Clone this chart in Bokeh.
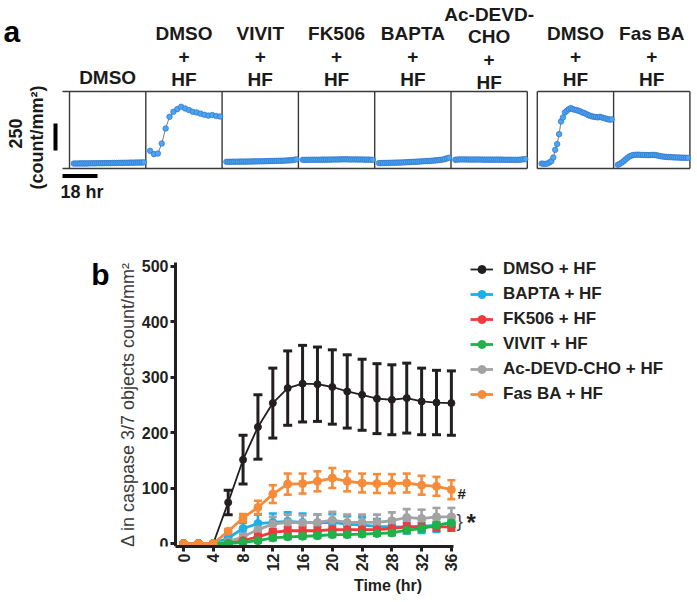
import numpy as np
from bokeh.plotting import figure
from bokeh.models import (Range1d, ColumnDataSource, Whisker, TeeHead, Legend,
                          LegendItem, Label, FixedTicker)
from bokeh.layouts import column
from bokeh.embed import file_html
from bokeh.resources import INLINE
from bokeh.core.properties import value

FONT = "Liberation Sans"

# ---------------- panel a data ----------------
a_titles = [["DMSO"], ["DMSO", "+", "HF"], ["VIVIT", "+", "HF"], ["FK506", "+", "HF"],
            ["BAPTA", "+", "HF"], ["Ac-DEVD-", "CHO", "+", "HF"], ["DMSO", "+", "HF"],
            ["Fas BA", "+", "HF"]]
a_hours = list(range(0, 37))
a_hours_2h = list(range(0, 37, 2))
a_dmso = [46, 46, 46, 47, 47, 47, 47, 47, 48, 48, 48, 48, 49, 49, 49, 49, 50, 50, 50,
          50, 51, 51, 51, 52, 52, 52, 53, 53, 53, 54, 54, 54, 55, 55, 56, 56, 57]
a_dmso_hf1 = [164, 133, 139, 232, 371, 479, 525, 550, 572, 556, 541, 525, 519, 508,
              497, 490, 495, 486, 482]
a_vivit = [62, 62, 62, 63, 63, 63, 63, 64, 64, 64, 64, 65, 65, 65, 66, 66, 66, 67, 67,
           67, 68, 68, 69, 69, 70, 70, 71, 71, 72, 72, 73, 74, 75, 76, 78, 81, 85]
a_fk506 = [80, 80, 80, 80, 81, 81, 81, 81, 81, 81, 82, 82, 82, 82, 82, 83, 83, 84, 84,
           84, 85, 85, 85, 85, 84, 84, 84, 84, 84, 83, 83, 83, 82, 82, 82, 81, 80]
a_bapta = [50, 50, 51, 51, 52, 52, 53, 53, 54, 54, 55, 55, 56, 57, 58, 59, 60, 61, 62,
           63, 64, 65, 66, 67, 68, 69, 70, 72, 73, 75, 77, 79, 81, 84, 88, 94, 100]
a_devd = [80, 83, 84, 84, 84, 84, 84, 83, 83, 83, 83, 83, 83, 83, 82, 82, 82, 82, 82,
          82, 82, 82, 82, 82, 82, 81, 81, 81, 81, 81, 80, 80, 80, 81, 83, 85, 87]
a_dmso_hf2 = [46, 43, 43, 46, 56, 68, 102, 173, 226, 318, 436, 473, 519, 535, 550, 559,
              550, 544, 541, 535, 528, 519, 513, 504, 494, 488, 482, 479, 476, 473, 479,
              473, 467, 462, 457, 452, 455]
a_fasba = [34, 43, 55, 68, 85, 100, 112, 120, 125, 127, 128, 127, 126, 126, 125, 124,
           124, 125, 126, 125, 122, 118, 114, 111, 109, 107, 106, 105, 104, 103, 102,
           102, 101, 100, 100, 99, 99]
a_series = [(a_hours, a_dmso), (a_hours_2h, a_dmso_hf1), (a_hours, a_vivit),
            (a_hours, a_fk506), (a_hours, a_bapta), (a_hours, a_devd),
            (a_hours, a_dmso_hf2), (a_hours, a_fasba)]
scale_counts = 250
scale_hours = 18

# ---------------- panel b data ----------------
b_time = list(range(0, 37, 2))
b_names = ["DMSO + HF", "BAPTA + HF", "FK506 + HF", "VIVIT + HF", "Ac-DEVD-CHO + HF", "Fas BA + HF"]
b_dmso = [0, 0, 0, 74, 151, 210, 253, 280, 288, 287, 282, 274, 268, 261, 259, 262, 256, 254, 253]
b_dmso_sd = [0, 0, 0, 22, 44, 58, 63, 67, 69, 67, 67, 66, 64, 63, 63, 63, 60, 58, 58]
b_bapta = [0, 0, 0, 10, 27, 36, 38, 40, 38, 37, 38, 35, 33, 31, 30, 30, 31, 33, 37]
b_bapta_sd = [0, 0, 0, 5, 10, 16, 16, 16, 16, 15, 15, 14, 14, 13, 13, 12, 12, 12, 12]
b_fk506 = [0, 0, 0, 0, 5, 12, 20, 23, 23, 23, 25, 25, 25, 25, 27, 30, 30, 30, 30]
b_fk506_sd = [0, 0, 0, 1, 3, 5, 6, 7, 7, 7, 7, 7, 7, 7, 7, 7, 7, 7, 7]
b_vivit = [0, 0, 0, 0, 2, 5, 10, 12, 13, 14, 16, 16, 17, 18, 19, 24, 27, 33, 37]
b_vivit_sd = [0, 0, 0, 1, 2, 3, 4, 4, 4, 4, 4, 4, 4, 4, 4, 5, 5, 6, 6]
b_devd = [0, 0, 0, 3, 12, 25, 35, 38, 37, 38, 42, 38, 38, 38, 41, 47, 45, 48, 48]
b_devd_sd = [0, 0, 0, 3, 6, 10, 13, 14, 14, 14, 15, 14, 14, 14, 15, 15, 16, 16, 16]
b_fasba = [0, 0, 0, 22, 46, 65, 89, 107, 108, 112, 118, 112, 109, 108, 108, 109, 105, 103, 97]
b_fasba_sd = [0, 0, 0, 4, 7, 12, 16, 19, 18, 18, 18, 18, 17, 17, 17, 17, 17, 17, 17]
b_colors = ["#231f20", "#1eaee8", "#ee3b3b", "#1fb14b", "#a3a3a3", "#f68b3a"]
y_ticks = [0, 100, 200, 300, 400, 500]
x_ticks = list(range(0, 37, 4))

# ================= panel a figure (page y 0..208) =================
PX_PER_HR = 35 / 18
CNT_PER_PX = 250 / 27
FA_W, FA_H = 697, 208
PANEL_W = 76.3 / PX_PER_HR
GAP = 10 / PX_PER_HR
PAD = 4.3 / PX_PER_HR
PANEL_TOP = 77 * CNT_PER_PX
X0 = -69 / PX_PER_HR
Y0 = -(FA_H - 168) * CNT_PER_PX


def ax(page_x):
    return X0 + page_x / PX_PER_HR


def ay(page_y):
    return Y0 + (FA_H - page_y) * CNT_PER_PX


pa = figure(width=FA_W, height=FA_H, output_backend="svg", toolbar_location=None,
            x_range=Range1d(X0, X0 + FA_W / PX_PER_HR),
            y_range=Range1d(Y0, Y0 + FA_H * CNT_PER_PX),
            x_axis_location=None, y_axis_location=None, min_border=0, frame_align=False)
pa.outline_line_color = None
pa.grid.visible = False

lefts = [i * PANEL_W for i in range(6)] + [6 * PANEL_W + GAP + i * PANEL_W for i in range(2)]
rights = [l + PANEL_W for l in lefts]
verts = sorted(set([round(v, 4) for v in lefts + rights]))
pa.segment(x0=verts, y0=0, x1=verts, y1=PANEL_TOP, line_color="#3a3a3a", line_width=1.4)
ext = 7 / PX_PER_HR
g1l, g1r, g2l, g2r = lefts[0] - ext, rights[5], lefts[6], rights[7]
pa.segment(x0=[g1l, g1l, g2l, g2l], y0=[0, PANEL_TOP, 0, PANEL_TOP],
           x1=[g1r, g1r, g2r, g2r], y1=[0, PANEL_TOP, 0, PANEL_TOP],
           line_color="#3a3a3a", line_width=1.4)

title_base = [14, 12, 12, 12, 12, 9, 12, 12]
for i, ((ts, vs), lines) in enumerate(zip(a_series, a_titles)):
    xs = [lefts[i] + PAD + t for t in ts]
    pa.line(xs, vs, line_color="#5a5a5a", line_width=0.8)
    pa.scatter(xs, vs, size=5.6, fill_color="#4ca4f2", line_color="#2b6dc2", line_width=0.6)
    n = len(lines)
    cx = lefts[i] + PANEL_W / 2
    for k, txt in enumerate(lines):
        yy = PANEL_TOP + (title_base[i] + 22.8 * (n - 1 - k)) * CNT_PER_PX
        pa.text(x=[cx], y=[yy], text=[txt], text_align="center", text_baseline="middle",
                text_font=value(FONT), text_font_style="bold", text_font_size="19px",
                text_color="#1a1a1a")

# scale bars
sb_y0 = (168 - 150) * CNT_PER_PX
pa.segment(x0=[ax(55)], y0=[sb_y0], x1=[ax(55)], y1=[sb_y0 + scale_counts],
           line_color="black", line_width=4)
hb_x0 = ax(62)
pa.segment(x0=[hb_x0], y0=[ay(175.5)], x1=[hb_x0 + scale_hours], y1=[ay(175.5)],
           line_color="black", line_width=4)
pa.text(x=[ax(60)], y=[ay(191)], text=["18 hr"], text_align="left", text_baseline="middle",
        text_font=value(FONT), text_font_style="bold", text_font_size="18px", text_color="#1a1a1a")
pa.text(x=[ax(15)], y=[ay(133)], text=["250"], angle=np.pi / 2, text_align="center",
        text_baseline="middle", text_font=value(FONT), text_font_style="bold",
        text_font_size="18px", text_color="#1a1a1a")
pa.text(x=[ax(36)], y=[ay(137)], text=["(count/mm²)"], angle=np.pi / 2, text_align="center",
        text_baseline="middle", text_font=value(FONT), text_font_style="bold",
        text_font_size="18px", text_color="#1a1a1a")
pa.text(x=[ax(3)], y=[ay(31)], text=["a"], text_align="left", text_baseline="middle",
        text_font=value(FONT), text_font_style="bold", text_font_size="30px", text_color="black")

# ================= panel b figure (page y 208..602) =================
PXU_X = 7.44     # px per hour
PXU_Y = 0.555    # px per count
AX_X = -1.08     # where the y axis sits (data)
AX_Y = -5.4      # where the x axis sits (data)
AX_XEND = 36.29
AX_YEND = 506.3
FB_TOP = 208
# frame spans page x 78..697, page y 208..546 ; axis corner at page (175, 546)
XS = AX_X - (175 - 78) / PXU_X
XE = AX_X + (697 - 175) / PXU_X
YS = AX_Y
YE = AX_Y + (546 - FB_TOP) / PXU_Y

pb = figure(width=697, height=602 - FB_TOP, output_backend="svg", toolbar_location=None,
            x_range=Range1d(XS, XE), y_range=Range1d(YS, YE),
            min_border_left=78, min_border_right=0, min_border_top=0,
            min_border_bottom=602 - 546, frame_align=False)
pb.outline_line_color = None
pb.grid.visible = False
for axis in (pb.xaxis[0], pb.yaxis[0]):
    axis.axis_line_width = 3
    axis.axis_line_color = "#231f20"
    axis.major_tick_line_width = 3
    axis.major_tick_line_color = "#231f20"
    axis.major_tick_out = 5
    axis.major_tick_in = 0
    axis.minor_tick_line_color = None
    axis.major_label_text_font = FONT
    axis.major_label_text_font_style = "bold"
    axis.major_label_text_font_size = "16px"
    axis.major_label_text_color = "#231f20"
    axis.major_label_standoff = 2
pb.xaxis.ticker = FixedTicker(ticks=x_ticks)
pb.yaxis.ticker = FixedTicker(ticks=y_ticks)
pb.xaxis.bounds = (AX_X, AX_XEND)
pb.yaxis.bounds = (AX_Y, AX_YEND)
pb.yaxis.fixed_location = AX_X
pb.xaxis.major_label_orientation = np.pi / 2
pb.xaxis.axis_label = "Time (hr)"
pb.xaxis.axis_label_text_font = FONT
pb.xaxis.axis_label_text_font_style = "bold"
pb.xaxis.axis_label_text_font_size = "16px"
pb.xaxis.axis_label_text_color = "#231f20"
pb.xaxis.axis_label_standoff = 3
pb.yaxis.axis_label = "Δ in caspase 3/7 objects count/mm²"
pb.yaxis.axis_label_text_font = FONT
pb.yaxis.axis_label_text_font_style = "normal"
pb.yaxis.axis_label_text_font_size = "18px"
pb.yaxis.axis_label_text_color = "#3a3a3a"
pb.yaxis.axis_label_standoff = 1

series = {
    "DMSO + HF": (b_dmso, b_dmso_sd),
    "BAPTA + HF": (b_bapta, b_bapta_sd),
    "FK506 + HF": (b_fk506, b_fk506_sd),
    "VIVIT + HF": (b_vivit, b_vivit_sd),
    "Ac-DEVD-CHO + HF": (b_devd, b_devd_sd),
    "Fas BA + HF": (b_fasba, b_fasba_sd),
}
color_of = dict(zip(b_names, b_colors))
draw_order = ["BAPTA + HF", "Ac-DEVD-CHO + HF", "FK506 + HF", "VIVIT + HF", "DMSO + HF", "Fas BA + HF"]
renderers = {}
for name in draw_order:
    ys, sd = series[name]
    c = color_of[name]
    black = name == "DMSO + HF"
    idx = [i for i, s in enumerate(sd) if s > 0]
    src = ColumnDataSource(dict(x=[b_time[i] for i in idx],
                                lo=[ys[i] - sd[i] for i in idx],
                                hi=[ys[i] + sd[i] for i in idx]))
    wl = 3 if black else 2.6
    w = Whisker(base="x", lower="lo", upper="hi", source=src, line_color=c, line_width=wl,
                upper_head=TeeHead(size=9 if black else 8, line_color=c, line_width=wl),
                lower_head=TeeHead(size=9 if black else 8, line_color=c, line_width=wl))
    pb.add_layout(w)
    lr = pb.line(b_time, ys, line_color=c, line_width=1.8 if black else 2.8)
    sr = pb.scatter(b_time, ys, size=7 if black else 8, fill_color=c, line_color=c)
    renderers[name] = [lr, sr]

legend = Legend(items=[LegendItem(label=n, renderers=renderers[n]) for n in b_names],
                location=(470 - 78, 546 - 404))
legend.label_text_font = FONT
legend.label_text_font_style = "bold"
legend.label_text_font_size = "17px"
legend.label_text_color = "#231f20"
legend.glyph_width = 23
legend.glyph_height = 20
legend.label_height = 20
legend.spacing = 5
legend.padding = 0
legend.margin = 0
legend.label_standoff = 10
legend.border_line_color = None
legend.background_fill_alpha = 0
pb.add_layout(legend)

pb.add_layout(Label(x=36, y=90, x_offset=6, text="#", text_baseline="middle",
                    text_font=FONT, text_font_style="bold", text_font_size="15px",
                    text_color="#231f20"))
pb.add_layout(Label(x=36, y=41, x_offset=5, text="}", text_baseline="middle",
                    text_font=FONT, text_font_size="19px", text_color="#444444"))
pb.add_layout(Label(x=36, y=37, x_offset=15, text="*", text_baseline="middle",
                    text_font=FONT, text_font_style="bold", text_font_size="24px",
                    text_color="#231f20"))
pb.add_layout(Label(x=AX_X + (100 - 175) / PXU_X, y=(543 - 274) / PXU_Y, text="b",
                    text_baseline="middle", text_align="center",
                    text_font=FONT, text_font_style="bold", text_font_size="30px",
                    text_color="black"))

layout = column(pa, pb)
open("out.html", "w").write(file_html(layout, INLINE))
